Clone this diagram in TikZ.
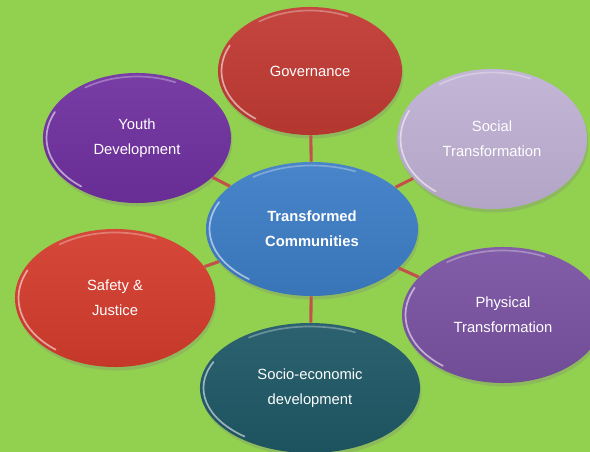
\documentclass[tikz,border=0pt]{standalone}
\usepackage{fontspec}
\setmainfont{Liberation Sans}
\usepackage{xcolor}
\usetikzlibrary{shapes.geometric,shadows,calc}
\definecolor{field green}{HTML}{92D050}
\definecolor{link red}{HTML}{C4504A}
\definecolor{hub blue}{HTML}{3D7DC6}
\definecolor{gov red}{HTML}{C13A33}
\definecolor{youth purple}{HTML}{7030A0}
\definecolor{social lilac}{HTML}{BFB1D4}
\definecolor{phys purple}{HTML}{7A52A2}
\definecolor{socio teal}{HTML}{1F5866}
\definecolor{safety red}{HTML}{D33C2D}
\newcommand\bubblefont{\fontsize{10.5}{17.5}\selectfont}
\tikzset{bubble/.style={ellipse, inner sep=0pt, text=white, align=center, font=\bubblefont,
        top color=#1!94!white, bottom color=#1!93!black,
        drop shadow={opacity=0.25, shadow xshift=1pt, shadow yshift=-2.5pt},
        path picture={
          \draw[white, opacity=0.55, line width=1.2pt, line cap=round]
          let \p1=($(path picture bounding box.north east)-(path picture bounding box.center)$) in
          ($(path picture bounding box.center)+(155:{\x1-2.5pt} and {\y1-2.5pt})$)
          arc[start angle=155, end angle=232, x radius=\x1-2.5pt, y radius=\y1-2.5pt];
          \draw[white, opacity=0.3, line width=1.2pt, line cap=round]
          let \p1=($(path picture bounding box.north east)-(path picture bounding box.center)$) in
          ($(path picture bounding box.center)+(65:{\x1-2.5pt} and {\y1-2.5pt})$)
          arc[start angle=65, end angle=125, x radius=\x1-2.5pt, y radius=\y1-2.5pt];}},
    link/.style={draw=link red, line width=2.2pt}}

\begin{document}
\begin{tikzpicture}[x=0.025cm, y=-0.025cm]
    \useasboundingbox (0,0) rectangle (590,452);
    \clip (0,0) rectangle (590,452);
    \fill[field green] (0,0) rectangle (590,452);
    % centre and the six fields
    \node[bubble=hub blue, minimum width=5.3cm, minimum height=3.35cm, font=\bubblefont\bfseries]
        (hub) at (312,229) {Transformed\\Communities};
    \node[bubble=gov red, minimum width=4.6cm, minimum height=3.2cm]
        (gov) at (310,71) {Governance};
    \node[bubble=youth purple, minimum width=4.7cm, minimum height=3.25cm]
        (youth) at (137,138) {Youth\\Development};
    \node[bubble=social lilac, minimum width=4.75cm, minimum height=3.5cm]
        (social) at (492,139) {Social\\Transformation};
    \node[bubble=phys purple, minimum width=5.05cm, minimum height=3.4cm]
        (phys) at (503,315) {Physical\\Transformation};
    \node[bubble=socio teal, minimum width=5.5cm, minimum height=3.25cm]
        (socio) at (310,388) {Socio-economic\\development};
    \node[bubble=safety red, minimum width=5cm, minimum height=3.45cm]
        (safety) at (115,298) {Safety \&\\Justice};
    % spokes
    \foreach \n in {gov,youth,social,phys,socio,safety}
        \draw[link] (hub) -- (\n);
\end{tikzpicture}
\end{document}
